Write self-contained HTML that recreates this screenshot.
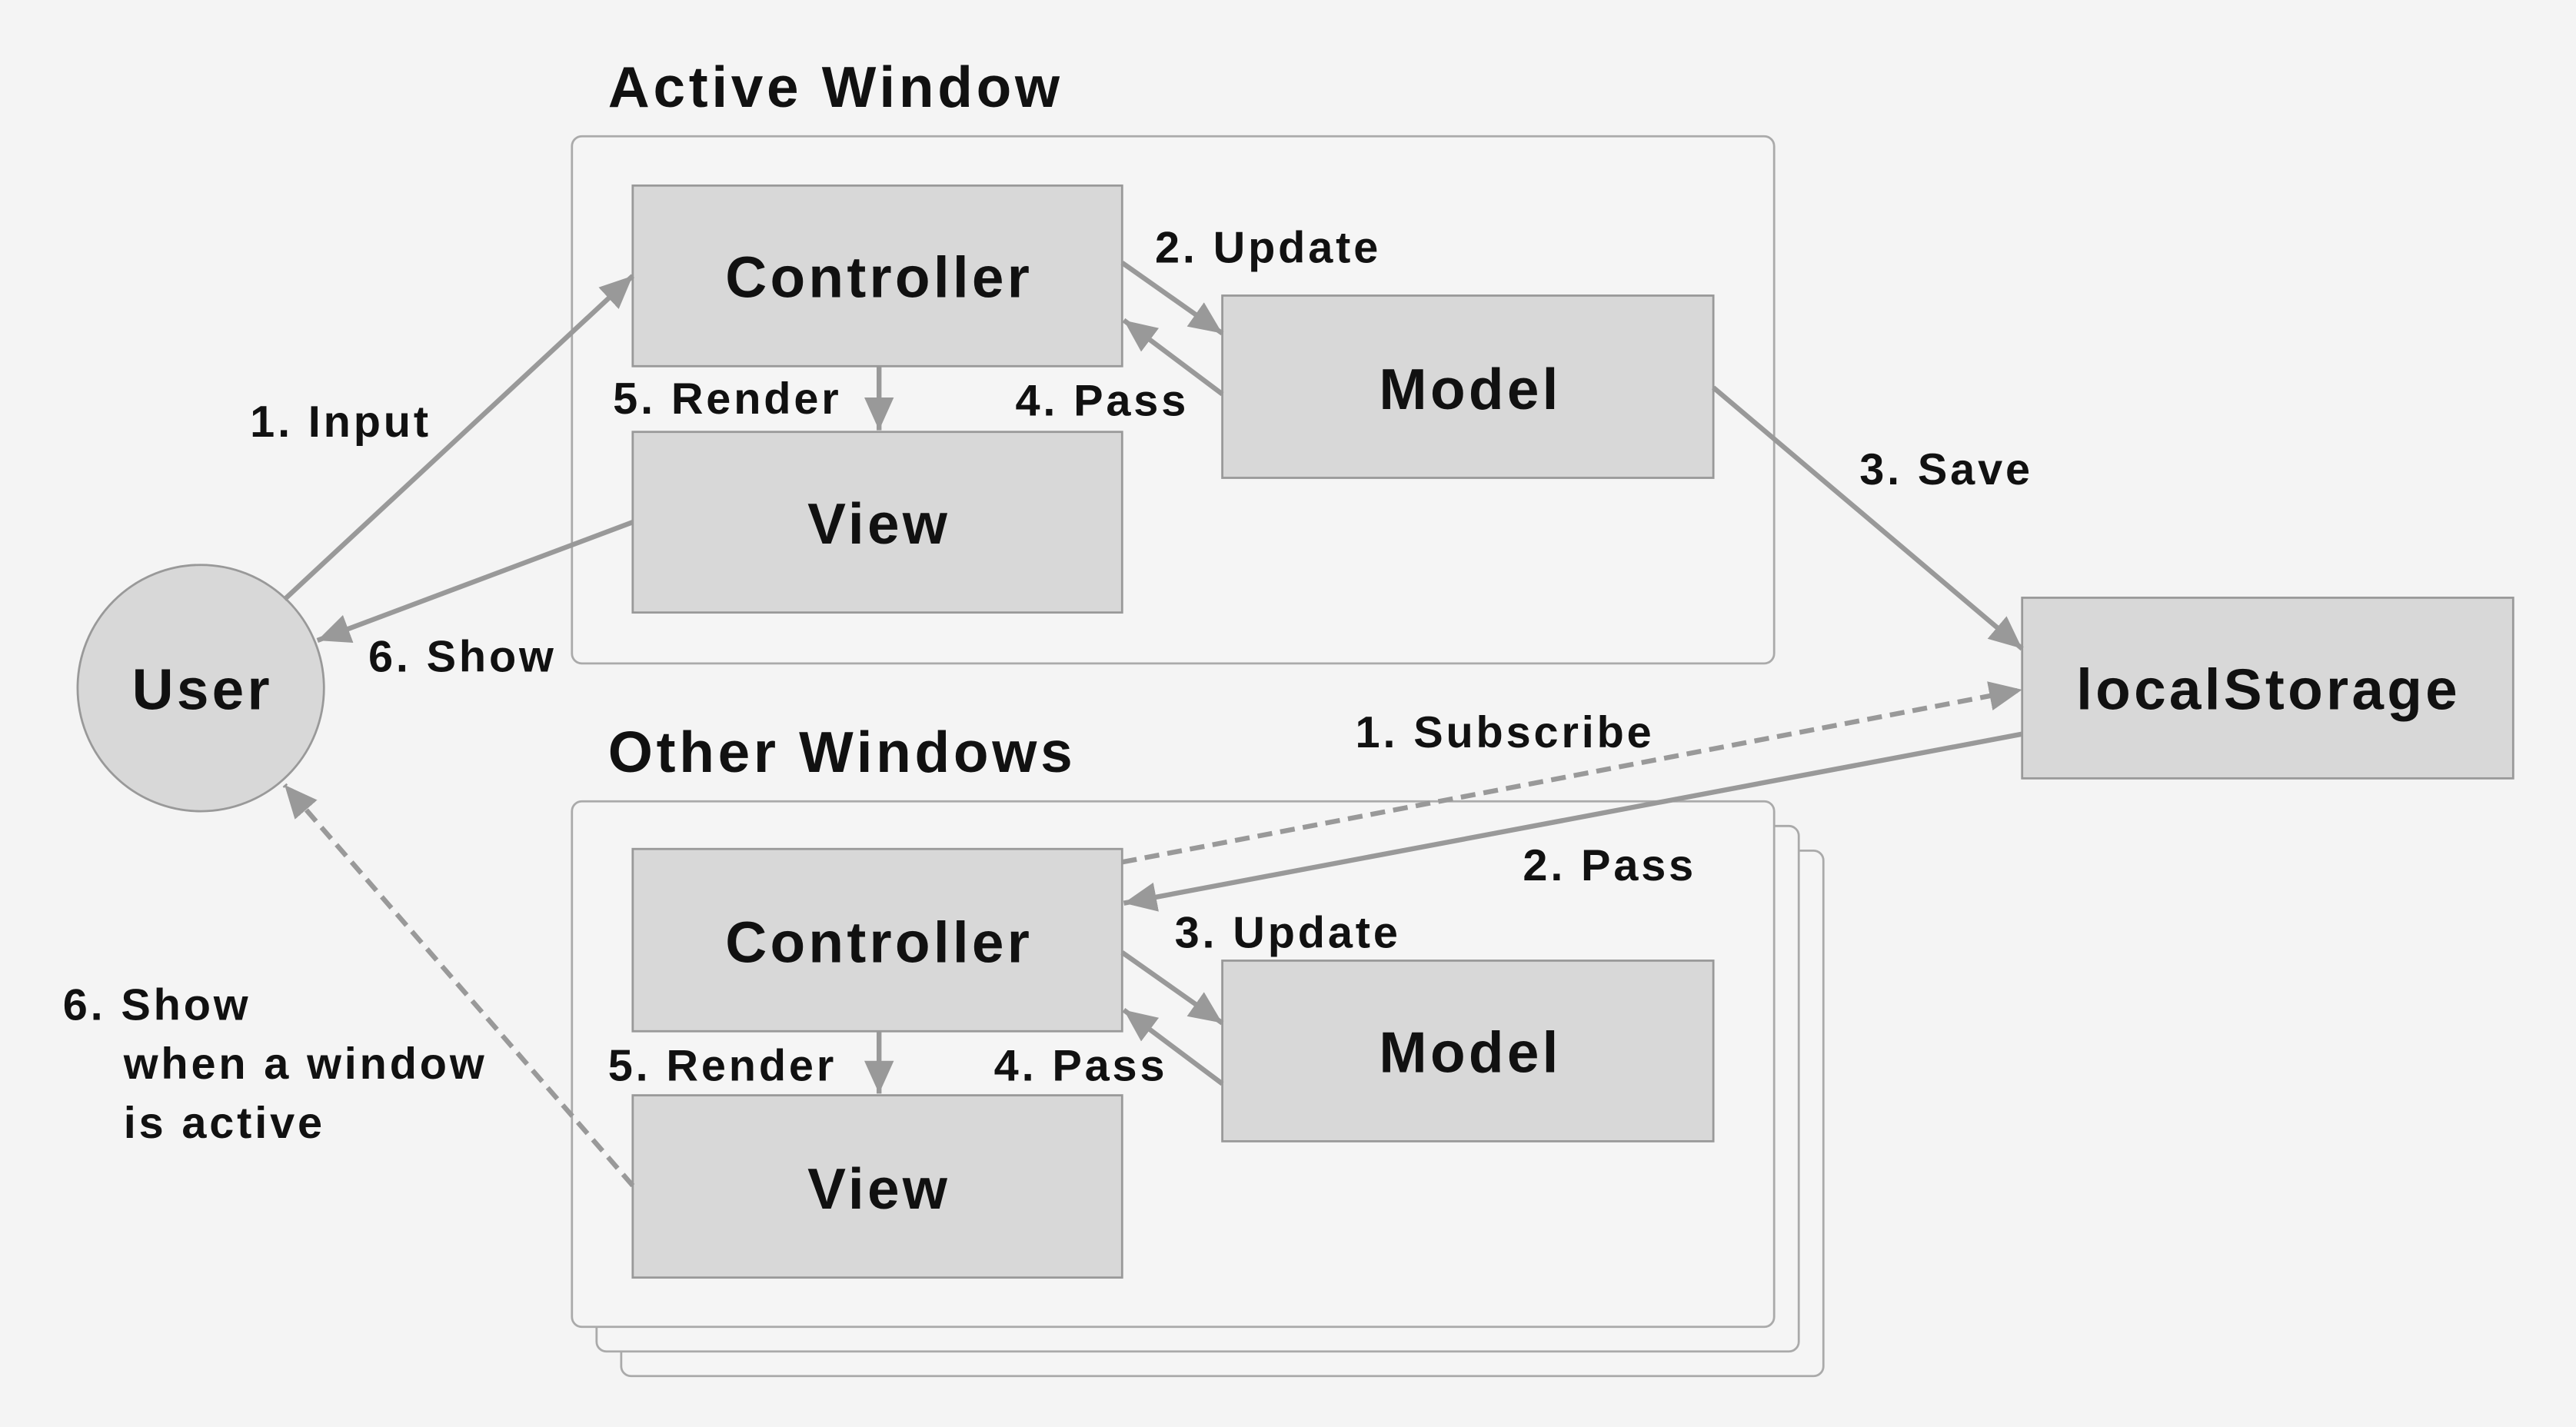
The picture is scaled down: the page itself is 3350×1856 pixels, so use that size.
<!DOCTYPE html>
<html><head><meta charset="utf-8"><style>
html,body{margin:0;padding:0;background:#f4f4f4;}
svg{display:block;}
text{font-family:"Liberation Sans",sans-serif;font-weight:bold;fill:#111;}
</style></head><body>
<svg width="3350" height="1856" viewBox="0 0 1568 869" xmlns="http://www.w3.org/2000/svg">
<defs>
<marker id="a" markerUnits="userSpaceOnUse" markerWidth="22" markerHeight="18" refX="20" refY="9" orient="auto">
<path d="M0,0 L20,9 L0,18 Z" fill="#999"/>
</marker>
</defs>
<rect width="1568" height="869" fill="#f4f4f4"/>
<g fill="#f5f5f5" stroke="#aaa" stroke-width="1.3">
<rect x="348" y="83" width="732" height="321" rx="6"/>
<rect x="378" y="518" width="732" height="320" rx="6"/>
<rect x="363" y="503" width="732" height="320" rx="6"/>
<rect x="348" y="488" width="732" height="320" rx="6"/>
</g>
<g fill="#d8d8d8" stroke="#999" stroke-width="1.3">
<rect x="385" y="113" width="298" height="110"/>
<rect x="385" y="263" width="298" height="110"/>
<rect x="744" y="180" width="299" height="111"/>
<rect x="385" y="517" width="298" height="111"/>
<rect x="385" y="667" width="298" height="111"/>
<rect x="744" y="585" width="299" height="110"/>
<rect x="1231" y="364" width="299" height="110"/>
<circle cx="122" cy="419" r="75"/>
</g>
<g stroke="#999" stroke-width="3" fill="none" marker-end="url(#a)">
<line x1="173" y1="365" x2="385" y2="168"/>
<line x1="683" y1="160" x2="744" y2="203"/>
<line x1="744" y1="240" x2="684" y2="195"/>
<line x1="535" y1="223" x2="535" y2="262"/>
<line x1="385" y1="318" x2="193" y2="390"/>
<line x1="1043" y1="236" x2="1231" y2="395"/>
<line x1="683" y1="525" x2="1231" y2="420" stroke-dasharray="9,5"/>
<line x1="1231" y1="447" x2="684" y2="550"/>
<line x1="683" y1="580" x2="744" y2="623"/>
<line x1="744" y1="660" x2="684" y2="615"/>
<line x1="535" y1="628" x2="535" y2="666"/>
<line x1="385" y1="722" x2="173" y2="478" stroke-dasharray="9,5"/>
</g>
<g font-size="35" text-anchor="middle" letter-spacing="2">
<text x="535" y="181">Controller</text>
<text x="535" y="331">View</text>
<text x="895" y="249">Model</text>
<text x="535" y="586">Controller</text>
<text x="535" y="736">View</text>
<text x="895" y="653">Model</text>
<text x="1381" y="432">localStorage</text>
<text x="123" y="432">User</text>
</g>
<g font-size="35" letter-spacing="2.2">
<text x="370" y="65">Active Window</text>
<text x="370" y="470">Other Windows</text>
</g>
<g font-size="27" letter-spacing="1.8">
<text x="152" y="266">1. Input</text>
<text x="703" y="160">2. Update</text>
<text x="373" y="252">5. Render</text>
<text x="618" y="253">4. Pass</text>
<text x="1132" y="295">3. Save</text>
<text x="224" y="409">6. Show</text>
<text x="825" y="455">1. Subscribe</text>
<text x="927" y="536">2. Pass</text>
<text x="715" y="577">3. Update</text>
<text x="370" y="658">5. Render</text>
<text x="605" y="658">4. Pass</text>
<text x="38" y="621">6. Show</text>
<text x="75" y="657">when a window</text>
<text x="75" y="693">is active</text>
</g>
</svg>
</body></html>
